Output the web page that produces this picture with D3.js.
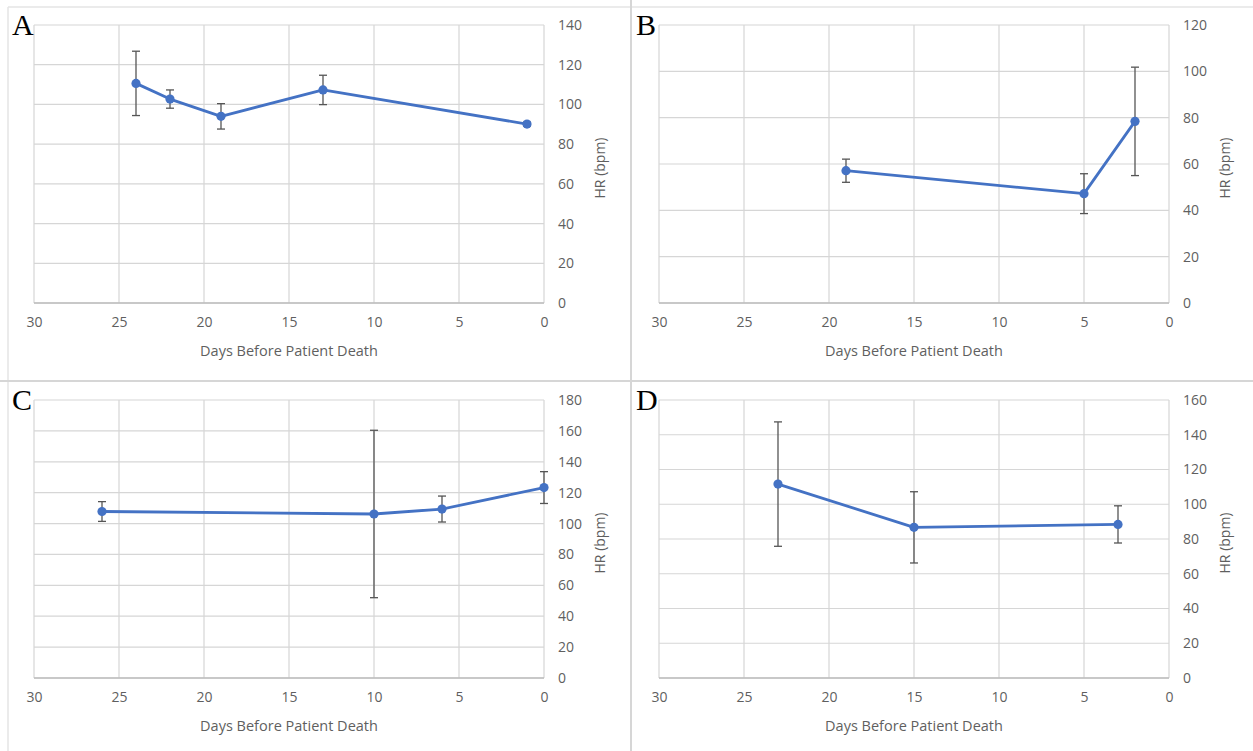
<!DOCTYPE html>
<html>
<head>
<meta charset="utf-8">
<script src="https://cdn.jsdelivr.net/npm/d3@7"></script>
<style>
  body { margin: 0; background: #fff; }
  .tick text { font-family: "Open Sans", sans-serif; }
</style>
</head>
<body>
<svg id="chart" width="1253" height="751"></svg>
<script>
// days before death, mean HR and error (bpm) for each patient panel
const daysA = [24, 22, 19, 13, 1];
const hrA = [110.6, 102.7, 94, 107.3, 90.1];
const errA = [16.2, 4.6, 6.4, 7.4, 1];

const daysB = [19, 5, 2];
const hrB = [57.1, 47.2, 78.4];
const errB = [5, 8.6, 23.4];

const daysC = [26, 10, 6, 0];
const hrC = [107.8, 106.2, 109.4, 123.3];
const errC = [6.4, 54.2, 8.4, 10.3];

const daysD = [23, 15, 3];
const hrD = [111.6, 86.7, 88.4];
const errD = [35.8, 20.5, 10.7];

const yMaxes = [140, 120, 180, 160];
const panelLetters = ["A", "B", "C", "D"];
const xTicks = [30, 25, 20, 15, 10, 5, 0];

const svg = d3.select("#chart");

// frame / separators between the four panels
const sepColor = "#d6d6d6";
svg.append("line").attr("x1", 8).attr("x2", 1253).attr("y1", 7).attr("y2", 7)
  .attr("stroke", "#e4e4e4").attr("stroke-width", 1.5);
svg.append("line").attr("x1", 8).attr("x2", 8).attr("y1", 7).attr("y2", 751)
  .attr("stroke", "#e4e4e4").attr("stroke-width", 1.5);
svg.append("line").attr("x1", 631).attr("x2", 631).attr("y1", 0).attr("y2", 751)
  .attr("stroke", sepColor).attr("stroke-width", 2);
svg.append("line").attr("x1", 0).attr("x2", 1253).attr("y1", 381).attr("y2", 381)
  .attr("stroke", sepColor).attr("stroke-width", 2);

const panels = [
  { days: daysA, hr: hrA, err: errA, left: 34, top: 25, letterX: 12, letterY: 35 },
  { days: daysB, hr: hrB, err: errB, left: 659, top: 25, letterX: 636, letterY: 35 },
  { days: daysC, hr: hrC, err: errC, left: 34, top: 400, letterX: 12, letterY: 410 },
  { days: daysD, hr: hrD, err: errD, left: 659, top: 400, letterX: 636, letterY: 410 }
];

const plotW = 510;
const plotH = 278;
const textGray = "#5f5f5f";
const gridGray = "#d6d6d6";
const blue = "#4472C4";

panels.forEach((p, i) => {
  const g = svg.append("g").attr("transform", `translate(${p.left},${p.top})`);

  const x = d3.scaleLinear().domain([30, 0]).range([0, plotW]);
  const y = d3.scaleLinear().domain([0, yMaxes[i]]).range([plotH, 0]);
  const yTicks = d3.range(0, yMaxes[i] + 1, 20);

  // gridlines
  g.selectAll(".hgrid").data(yTicks).enter().append("line")
    .attr("x1", 0).attr("x2", plotW)
    .attr("y1", d => y(d)).attr("y2", d => y(d))
    .attr("stroke", gridGray).attr("stroke-width", 1.2);
  g.selectAll(".vgrid").data(xTicks).enter().append("line")
    .attr("x1", d => x(d)).attr("x2", d => x(d))
    .attr("y1", 0).attr("y2", plotH)
    .attr("stroke", gridGray).attr("stroke-width", 1.2);
  // bottom axis line slightly darker
  g.append("line").attr("x1", 0).attr("x2", plotW).attr("y1", plotH).attr("y2", plotH)
    .attr("stroke", "#bcbcbc").attr("stroke-width", 1.3);

  // x axis
  const xAxis = g.append("g").attr("transform", `translate(0,${plotH})`)
    .call(d3.axisBottom(x).tickValues(xTicks).tickSize(0).tickPadding(14));
  xAxis.select(".domain").remove();
  xAxis.selectAll("text").attr("fill", textGray).style("font-size", "14px");

  // y axis on the right
  const yAxis = g.append("g").attr("transform", `translate(${plotW},0)`)
    .call(d3.axisRight(y).tickValues(yTicks).tickSize(0).tickPadding(14));
  yAxis.select(".domain").remove();
  yAxis.selectAll("text").attr("fill", textGray).style("font-size", "14px");

  // axis titles
  g.append("text")
    .attr("x", plotW / 2).attr("y", plotH + 53)
    .attr("text-anchor", "middle")
    .attr("fill", textGray)
    .style("font-family", "Open Sans, sans-serif").style("font-size", "14.5px")
    .text("Days Before Patient Death");
  g.append("text")
    .attr("transform", `translate(${plotW + 61},${plotH / 2 + 4}) rotate(-90)`)
    .attr("text-anchor", "middle")
    .attr("fill", textGray)
    .style("font-family", "Open Sans, sans-serif").style("font-size", "14px")
    .text("HR (bpm)");

  const pts = p.days.map((d, k) => ({ day: d, hr: p.hr[k], err: p.err[k] }));

  // error bars
  const eb = g.selectAll(".err").data(pts).enter().append("g");
  eb.append("line")
    .attr("x1", d => x(d.day)).attr("x2", d => x(d.day))
    .attr("y1", d => y(d.hr + d.err)).attr("y2", d => y(d.hr - d.err))
    .attr("stroke", "#555").attr("stroke-width", 1.3);
  eb.append("line")
    .attr("x1", d => x(d.day) - 4).attr("x2", d => x(d.day) + 4)
    .attr("y1", d => y(d.hr + d.err)).attr("y2", d => y(d.hr + d.err))
    .attr("stroke", "#555").attr("stroke-width", 1.3);
  eb.append("line")
    .attr("x1", d => x(d.day) - 4).attr("x2", d => x(d.day) + 4)
    .attr("y1", d => y(d.hr - d.err)).attr("y2", d => y(d.hr - d.err))
    .attr("stroke", "#555").attr("stroke-width", 1.3);

  // the series line + markers
  const line = d3.line().x(d => x(d.day)).y(d => y(d.hr));
  g.append("path").datum(pts)
    .attr("d", line)
    .attr("fill", "none")
    .attr("stroke", blue)
    .attr("stroke-width", 2.8)
    .attr("stroke-linejoin", "round");
  g.selectAll(".pt").data(pts).enter().append("circle")
    .attr("cx", d => x(d.day)).attr("cy", d => y(d.hr))
    .attr("r", 4.6)
    .attr("fill", blue);

  // panel letter
  svg.append("text")
    .attr("x", p.letterX).attr("y", p.letterY)
    .attr("fill", "#000")
    .style("font-family", "Liberation Serif, serif")
    .style("font-size", "30px")
    .text(panelLetters[i]);
});
</script>
</body>
</html>
